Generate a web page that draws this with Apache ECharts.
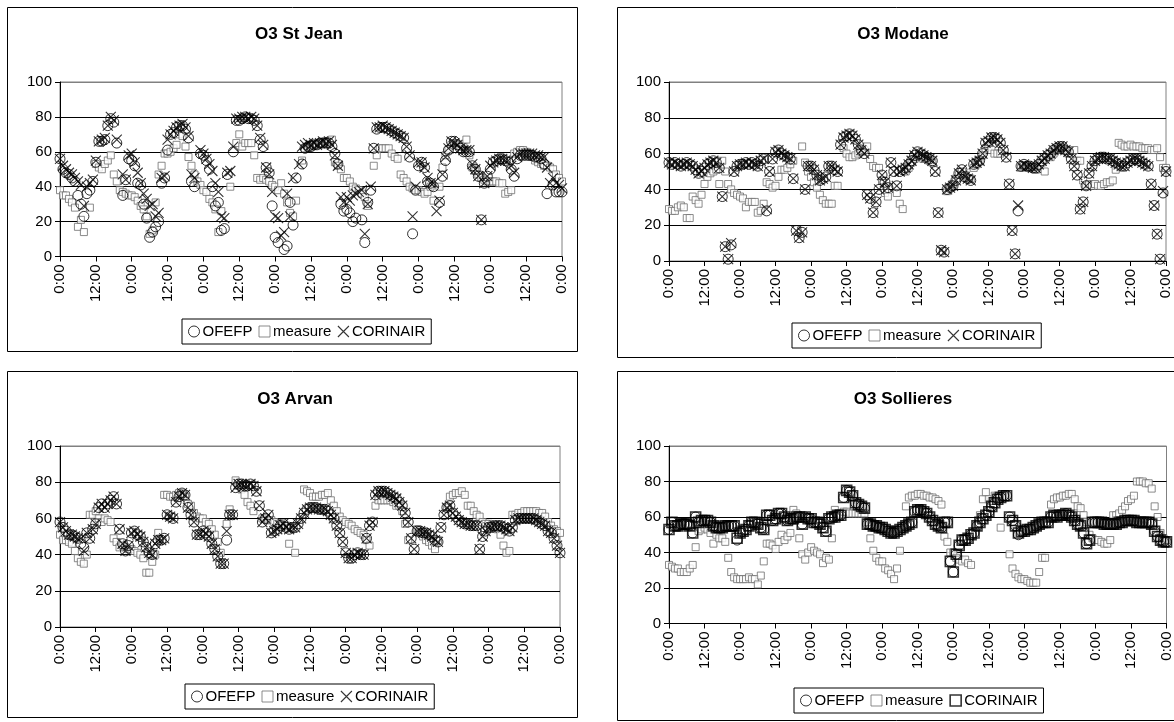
<!DOCTYPE html>
<html><head><meta charset="utf-8">
<script src="https://cdn.jsdelivr.net/npm/echarts@6/dist/echarts.min.js"></script>
<style>html,body{margin:0;padding:0;background:#fff}#c{width:1174px;height:722px}</style>
</head><body><div id="c"></div>
<script>
// hourly values, index = hour from start (0..168); null = no point
const xTickLabels = ['0:00','12:00'];
const titles = ['O3 St Jean','O3 Modane','O3 Arvan','O3 Sollieres'];
const seriesNames = ['OFEFP','measure','CORINAIR'];

const sjOfefp = [56,50,48,47,45,43,35,30,23,36,38,43, 54,66,66,67,75,79,77,65,null,35,44,56, 55,52,42,41,30,22,11,14,17,20,42,45, 61,70,71,74,75,75,73,68,43,40,null,59, 58,55,50,40,29,31,15,16,47,null,60,78, 78,79,80,79,79,78,75,67,63,51,48,29, 11,8,null,4,6,31,18,45,null,53,62,63, 63,64,64,65,65,65,65,63,59,53,30,26, 27,25,20,22,null,21,8,31,38,62,73,74, 74,74,73,72,71,70,69,68,62,57,13,38, 52,54,51,43,42,40,null,31,46,55,61,66, 66,64,62,60,60,60,52,50,46,21,42,46, 50,54,55,56,56,55,54,50,46,56,58,58, 58,58,58,57,57,56,53,36,null,41,37,37, 37];
const sjMeasure = [38,35,35,33,31,28,17,21,14,null,28,null, 53,51,50,53,55,58,47,43,38,37,36,35, 35,34,32,29,27,23,13,15,31,47,52,59, 59,60,62,64,70,69,63,57,52,47,43,41, 38,37,33,31,27,14,26,null,null,40,null,65, 70,63,65,65,65,58,45,44,45,44,43,41, 40,38,42,36,31,25,23,32,null,55,62,63, 63,64,64,65,65,66,66,67,54,52,50,45, 45,43,40,39,38,36,34,29,null,52,58,62, 62,62,62,59,57,56,47,45,43,40,39,38, 38,37,36,37,40,32,null,40,51,58,61,64, 65,64,63,63,67,58,51,49,47,45,44,43, 43,43,43,42,42,36,37,38,59,60,61,61, 60,59,57,55,54,53,52,52,51,50,47,45, 43];
const sjCorinair = [56,52,50,48,47,45,43,41,29,40,42,44, 55,66,67,68,75,80,78,67,null,47,44,58, 59,54,48,42,36,33,29,30,23,25,45,46, 67,70,72,74,75,76,74,69,47,45,null,61, 59,56,53,49,42,37,23,22,48,49,63,79, 79,80,80,79,80,79,75,68,64,51,47,37, 23,22,12,14,36,23,45,null,53,63,64,65, 64,65,64,65,66,65,66,64,58,52,34,31, 34,32,35,36,37,38,13,30,40,62,74,74, 75,74,73,72,71,70,69,68,63,58,23,40, 54,54,51,45,42,42,26,32,47,57,62,66, 65,64,62,61,61,61,53,50,46,21,42,46, 52,54,55,56,56,55,55,52,48,57,59,59, 59,59,59,58,58,57,57,51,42,45,42,41, 39];

const mdOfefp = [55,54,55,54,53,54,55,54,53,51,49,50, 52,54,55,56,55,52,36,8,1,9,50,53, 54,54,55,54,55,54,53,56,57,28,50,57, 61,62,60,59,58,57,46,17,13,16,40,53, 53,51,48,45,46,47,53,53,51,50,65,69, 70,71,70,68,65,62,60,37,35,27,33,40, 48,44,41,55,50,42,50,51,52,54,56,59, 61,60,59,58,57,56,50,27,6,5,40,41, 42,45,49,51,47,46,45,54,55,56,60,66, 67,69,69,68,66,62,58,43,17,4,28,53, 54,53,53,52,52,54,56,57,59,60,62,63, 64,64,62,61,57,53,48,29,33,42,49,53, 56,57,58,58,57,57,56,55,54,53,53,55, 56,57,57,56,55,54,53,43,31,15,1,38, 50];
const mdMeasure = [29,28,28,30,31,30,24,24,36,34,32,37, 43,47,49,50,51,43,56,50,43,40,38,37, 36,35,30,33,33,33,27,28,32,44,43,41, 42,47,51,51,52,54,56,null,null,64,55,50, 47,44,41,37,34,32,32,32,42,42,null,63, 60,58,58,59,60,61,62,64,57,53,52,52, 45,38,36,null,null,38,32,29,50,52,55,57, 58,58,57,57,56,55,null,null,null,null,39,41, 43,46,48,50,48,46,46,52,54,56,59,63, 64,62,60,60,60,null,null,null,null,null,null,52, 53,53,52,52,51,53,55,50,null,58,60,62, 63,63,62,60,null,62,56,56,45,42,43,42, 43,42,42,43,44,44,45,51,66,65,64,64, 65,64,64,64,63,63,63,62,62,63,58,52, 52];
const mdCorinair = [55,54,55,54,53,54,55,54,53,51,49,50, 52,54,55,56,55,52,36,8,1,10,50,53, 54,54,55,54,55,54,53,56,57,29,50,57, 61,62,60,59,58,57,46,17,13,16,40,53, 53,51,48,45,46,47,53,53,51,50,65,69, 70,71,70,68,65,62,60,37,35,27,33,40, 48,44,41,55,50,42,50,51,52,54,56,59, 61,60,59,58,57,56,50,27,6,5,40,41, 42,45,49,51,47,46,45,54,55,56,60,66, 67,69,69,68,66,62,58,43,17,4,31,53, 54,53,53,52,52,54,56,57,59,60,62,63, 64,64,62,61,57,53,48,29,33,42,49,53, 56,57,58,58,57,57,56,55,54,53,53,55, 56,57,57,56,55,54,53,43,31,15,1,39, 50];

const arOfefp = [58,55,53,51,51,50,49,46,44,52,49,54, 57,66,68,66,68,70,72,68,54,46,42,45, 52,53,51,50,47,44,41,40,46,48,48,49, 62,61,60,69,72,74,73,66,62,58,51,51, 53,52,50,46,43,39,35,35,48,62,62,77, 79,79,78,78,79,78,75,67,58,60,62,52, 53,54,56,57,55,54,55,55,57,60,63,65, 66,66,66,65,65,65,64,62,60,56,52,47, 41,38,38,40,41,40,40,49,56,58,73,75, 75,75,74,73,72,71,69,67,63,58,49,43, 53,53,52,52,51,50,48,47,55,62,66,67, 63,61,59,58,57,57,56,56,56,43,50,53, 55,55,56,56,56,55,54,53,55,59,60,60, 60,60,60,60,59,58,57,56,53,52,49,45, 41];
const arMeasure = [51,48,48,47,46,42,38,36,35,40,62,62, 64,60,58,60,59,58,49,47,44,45,44,43, 43,42,41,40,38,30,30,36,40,52,null,73, 73,72,72,73,74,73,72,68,67,63,61,60, 60,58,57,54,51,47,41,null,57,65,null,81, 78,76,73,69,67,64,null,null,60,60,59,59, 58,57,57,56,56,46,null,41,null,null,76,75, 74,72,72,72,73,73,74,70,67,64,61,59, 58,57,56,54,53,52,51,48,45,null,67,70, 70,70,70,70,69,67,67,64,57,48,null,null, 54,52,50,48,47,45,43,48,null,null,66,72, 73,74,74,75,73,67,67,64,62,61,58,57, 57,56,55,54,51,45,41,42,62,62,63,63, 64,64,64,64,64,63,63,61,58,56,54,53, 52];
const arCorinair = [58,55,53,51,51,50,49,49,42,52,49,54, 57,66,68,66,68,70,72,68,54,46,42,45, 52,53,51,50,47,44,41,40,46,48,48,49, 62,61,60,69,72,74,73,66,62,58,51,51, 53,52,50,46,43,39,35,35,53,62,62,77, 79,79,78,78,79,78,75,67,58,60,62,52, 53,54,56,57,55,54,55,55,57,60,63,65, 66,66,66,65,65,65,64,62,60,56,52,47, 41,38,38,40,41,40,40,49,56,58,73,75, 75,75,74,73,72,71,69,67,63,58,49,43, 53,53,52,52,51,50,48,47,55,62,66,67, 63,61,59,58,57,57,56,56,56,43,50,53, 55,55,56,56,56,55,54,53,55,59,60,60, 60,60,60,60,59,58,57,56,53,52,49,45, 41];

const slOfefp = [53,57,55,55,56,56,56,55,51,60,57,58, 58,58,57,55,54,54,54,55,55,55,55,47, 51,52,53,55,57,57,56,54,53,61,61,58, 59,62,62,60,58,59,59,60,60,56,60,59, 59,57,57,56,54,52,59,60,60,61,61,71, 75,74,72,68,67,66,65,56,56,55,55,54, 54,53,52,51,51,52,53,54,55,56,57,63, 64,64,63,62,60,58,56,55,54,57,57,35, 29,39,44,47,47,48,50,51,55,57,59,61, 63,66,68,70,71,72,72,60,58,55,50,52, 52,53,53,54,55,56,57,57,57,60,61,60, 61,61,62,61,60,58,56,55,51,45,47,57, 57,57,57,56,56,56,56,56,57,57,58,58, 58,58,57,57,57,57,57,56,52,49,47,46, 46];
const slMeasure = [33,32,31,31,29,29,29,31,33,43,52,53, 54,53,51,45,50,48,48,46,37,29,26,25, 25,25,25,26,25,25,22,27,35,45,45,44, 42,46,50,47,49,51,64,62,48,39,36,40, 43,41,40,39,34,37,36,48,64,62,61,63, 63,62,62,62,62,62,62,57,48,41,37,35, 35,31,30,28,25,31,41,null,66,71,72,72, 73,73,72,72,71,71,70,69,67,49,46,40, 40,37,36,35,36,34,33,null,55,61,70,74, 70,69,72,72,54,null,null,39,31,28,26,25, 25,24,23,23,23,29,37,37,null,67,70,71, 71,72,72,73,73,70,66,65,61,57,50,48, 47,47,46,45,45,47,61,61,62,64,66,69, 70,72,80,80,80,79,79,76,66,60,51,48, 47];
const slCorinair = [53,57,55,55,56,56,56,55,51,60,57,58, 58,58,57,55,54,54,54,55,55,55,55,48, 51,52,53,55,57,57,56,54,53,61,61,58, 59,62,62,60,58,59,59,60,60,56,60,59, 59,57,57,56,54,52,59,60,60,61,61,71, 75,74,72,68,67,66,65,56,56,55,55,54, 54,53,52,51,51,52,53,54,55,56,57,63, 64,64,63,62,60,58,56,55,54,57,57,35, 29,39,44,47,47,48,50,51,55,57,59,61, 63,66,68,70,71,72,72,60,58,55,51,52, 52,53,53,54,55,56,57,57,57,60,61,60, 61,61,62,61,60,58,56,55,51,45,47,57, 57,57,57,56,56,56,56,56,57,57,58,58, 58,58,57,57,57,57,57,56,52,49,47,46, 46];

const panels = [
  {ofefp: sjOfefp, measure: sjMeasure, corinair: sjCorinair, corSym: 'x'},
  {ofefp: mdOfefp, measure: mdMeasure, corinair: mdCorinair, corSym: 'x'},
  {ofefp: arOfefp, measure: arMeasure, corinair: arCorinair, corSym: 'x'},
  {ofefp: slOfefp, measure: slMeasure, corinair: slCorinair, corSym: 'sq'}
];

// layout
const grids = [
  {left: 60, top: 82, width: 502, height: 174.5},
  {left: 669, top: 82, width: 497, height: 179},
  {left: 60, top: 446, width: 500, height: 181},
  {left: 669, top: 446, width: 498, height: 177.5}
];
const boxes = [
  {x: 7.5, y: 7.5, w: 570, h: 344},
  {x: 617.5, y: 7.5, w: 570, h: 350},
  {x: 7.5, y: 371.5, w: 570, h: 346},
  {x: 617.5, y: 371.5, w: 570, h: 349}
];
const titlePos = [{x: 294, y: 21}, {x: 898, y: 21}, {x: 290, y: 386}, {x: 898, y: 386}];
const legendPos = [{x: 182, y: 319}, {x: 792, y: 323}, {x: 185, y: 684}, {x: 794, y: 688}];

const FONT = '"Liberation Sans", Arial, sans-serif';
const XPATH = 'path://M0,0L10,10M10,0L0,10';
function pts(arr) { const o = []; arr.forEach((v, i) => { if (v !== null) o.push([i, v]); }); return o; }

const option = {
  animation: false,
  backgroundColor: '#fff',
  title: [], legend: [], grid: [], xAxis: [], yAxis: [], series: [],
  graphic: boxes.map(b => ({type: 'rect', silent: true, z: -1,
    shape: {x: b.x, y: b.y, width: b.w, height: b.h},
    style: {fill: 'none', stroke: '#000', lineWidth: 1}}))
};

const ofefpStyle = {color: 'rgba(0,0,0,0)', borderColor: '#000', borderWidth: 1};
const measureStyle = {color: '#fff', borderColor: '#6e6e6e', borderWidth: 1};
const corStyle = {color: 'rgba(0,0,0,0)', borderColor: '#000', borderWidth: 1.1};
const corSqStyle = {color: 'rgba(0,0,0,0)', borderColor: '#000', borderWidth: 1.6};

panels.forEach((p, k) => {
  option.grid.push(Object.assign({show: true, borderColor: '#808080', borderWidth: 1, backgroundColor: 'transparent'}, grids[k]));
  option.title.push({text: titles[k], left: titlePos[k].x, top: titlePos[k].y, textAlign: 'center',
    textStyle: {fontFamily: FONT, fontWeight: 'bold', fontSize: 17, color: '#000'}});
  option.xAxis.push({type: 'value', gridIndex: k, min: 0, max: 168, interval: 12,
    axisLine: {lineStyle: {color: '#000', width: 1}},
    axisTick: {show: true, length: 5, lineStyle: {color: '#000'}},
    splitLine: {show: false},
    axisLabel: {rotate: 90, margin: 8, fontFamily: FONT, fontSize: 15, color: '#000',
      formatter: v => xTickLabels[(v / 12) % 2]}});
  option.yAxis.push({type: 'value', gridIndex: k, min: 0, max: 100, interval: 20,
    axisLine: {show: true, lineStyle: {color: '#000', width: 1}},
    axisTick: {show: true, length: 5, lineStyle: {color: '#000'}},
    splitLine: {show: true, lineStyle: {color: ['#000', '#000', '#000', '#000', '#000', '#808080'], width: 1}},
    axisLabel: {margin: 8, fontFamily: FONT, fontSize: 15, color: '#000'}});
  const corSymbol = p.corSym === 'x' ? XPATH : 'rect';
  option.series.push(
    {name: 'OFEFP', type: 'scatter', xAxisIndex: k, yAxisIndex: k, symbol: 'circle', symbolSize: 10,
      itemStyle: ofefpStyle, data: pts(p.ofefp), z: 3},
    {name: 'measure', type: 'scatter', xAxisIndex: k, yAxisIndex: k, symbol: 'rect', symbolSize: 7,
      itemStyle: measureStyle, data: pts(p.measure), z: 2},
    {name: 'CORINAIR', type: 'scatter', xAxisIndex: k, yAxisIndex: k, symbol: corSymbol,
      symbolSize: 10, itemStyle: p.corSym === 'x' ? corStyle : corSqStyle,
      data: pts(p.corinair), z: 4}
  );
  option.legend.push({left: legendPos[k].x, top: legendPos[k].y, orient: 'horizontal',
    borderColor: '#000', borderWidth: 1, padding: [5, 6, 5, 6], itemGap: 6, itemWidth: 11, itemHeight: 11,
    selectedMode: false, textStyle: {fontFamily: FONT, fontSize: 15, color: '#000', padding: [0, 0, 0, -2]},
    data: [
      {name: 'OFEFP', icon: 'circle', itemStyle: ofefpStyle},
      {name: 'measure', icon: 'rect', itemStyle: measureStyle},
      {name: 'CORINAIR', icon: corSymbol, itemStyle: p.corSym === 'x' ? corStyle : corSqStyle}
    ]});
});

const chart = echarts.init(document.getElementById('c'), null, {renderer: 'canvas'});
chart.setOption(option);
</script></body></html>
